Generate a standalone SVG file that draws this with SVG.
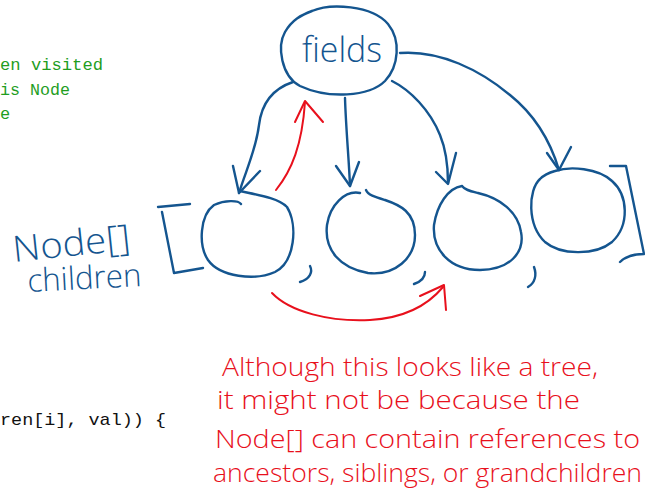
<svg xmlns="http://www.w3.org/2000/svg" width="645" height="499" viewBox="0 0 645 499">
<defs>
<style>
.bl{fill:none;stroke:#14558f;stroke-width:2.4;stroke-linecap:round;stroke-linejoin:round}
.rd{fill:none;stroke:#e8101c;stroke-width:2;stroke-linecap:round;stroke-linejoin:round}
.code{font-family:"Liberation Mono","DejaVu Sans Mono",monospace;font-size:17px}
.green{fill:#1f9e1f}
.black{fill:#111}
.hw-b{font-family:"Open Sans","DejaVu Sans",sans-serif;fill:#14558f;font-weight:300}
.hw-r{font-family:"Open Sans","DejaVu Sans",sans-serif;fill:#e8101c;font-weight:300;font-size:26px}
</style>
</defs>
<rect width="645" height="499" fill="#fff"/>

<g id="code">
<text class="code green" x="0" y="70" textLength="103" lengthAdjust="spacingAndGlyphs">en visited</text>
<text class="code green" x="0" y="95" textLength="70" lengthAdjust="spacingAndGlyphs">is Node</text>
<text class="code green" x="0" y="119">e</text>
<text class="code black" x="0" y="425" textLength="166" lengthAdjust="spacingAndGlyphs">ren[i], val)) {</text>
</g>

<g id="fields">
<path class="bl" d="M 312,11 C 330,3 372,5 388,24 C 401,40 399,66 385,81 C 369,97 328,99 300,86 C 281,76 277,46 285,32 C 292,20 301,15 312,11"/>
<text class="hw-b" x="302" y="62" font-size="34" textLength="80" lengthAdjust="spacingAndGlyphs">fields</text>
</g>

<g id="children-label">
<text class="hw-b" font-size="36" textLength="118" lengthAdjust="spacingAndGlyphs" transform="translate(14,262) rotate(-6)">Node[]</text>
<text class="hw-b" font-size="32" textLength="114" lengthAdjust="spacingAndGlyphs" transform="translate(28,292) rotate(-3)">children</text>
</g>

<g id="brackets">
<path class="bl" d="M 158,207 L 190,204 M 162,212 L 174,273 L 203,268"/>
<path class="bl" d="M 610,166 L 626,166 L 644,254 C 635,254 626,256 620,262"/>
<path class="bl" d="M 310,266 C 313,272 310,279 300,282"/>
<path class="bl" d="M 425,272 C 425,278 420,282 414,284"/>
<path class="bl" d="M 534,267 C 537,275 535,283 528,287"/>
</g>

<g id="node1">
<path class="bl" d="M 241,204 C 238,200 225,200 214,205 C 200,215 198,245 208,260 C 220,277 255,281 275,272 C 295,262 298,225 287,207 C 278,198 258,195 240,191"/>
</g>
<g id="node2">
<path class="bl" d="M 360,193 C 345,190 330,205 327,225 C 324,250 340,268 368,273 C 395,276 415,258 415,235 C 415,212 400,205 385,200 C 375,197 368,195 366,190"/>
</g>
<g id="node3">
<path class="bl" d="M 462,186 C 448,188 437,205 434,225 C 432,250 450,270 480,270 C 510,270 525,252 521,232 C 518,212 500,198 478,193 C 470,191 465,190 462,186"/>
</g>
<g id="node4">
<path class="bl" d="M 540,179 C 528,190 527,225 545,242 C 560,255 595,256 612,242 C 630,225 628,195 612,181 C 598,168 570,166 555,171 C 548,173 543,176 540,179"/>
</g>

<g id="connectors">
<path class="bl" d="M 293,82 C 275,88 262,100 259,125 C 256,150 246,170 239,193"/>
<path class="bl" d="M 233,166 L 239,193 L 260,171"/>
<path class="bl" d="M 345,98 C 346,130 349,160 350,186"/>
<path class="bl" d="M 336,166 L 350,186 L 359,162"/>
<path class="bl" d="M 392,81 C 410,90 430,110 440,135 C 447,152 448,170 448,183"/>
<path class="bl" d="M 436,172 L 448,184 L 456,153"/>
<path class="bl" d="M 400,53 C 440,50 480,70 510,95 C 535,115 550,140 559,170"/>
<path class="bl" d="M 547,153 L 559,170 L 571,147"/>
<path class="rd" d="M 276,190 C 292,170 302,145 305,102"/>
<path class="rd" d="M 295,122 L 305,101 L 323,122"/>
<path class="rd" d="M 272,293 C 290,312 330,322 370,320 C 405,318 428,305 443,287"/>
<path class="rd" d="M 420,296 L 444,285 L 446,310"/>
</g>

<g id="note">
<text class="hw-r" x="222" y="376" textLength="376" lengthAdjust="spacingAndGlyphs">Although this looks like a tree,</text>
<text class="hw-r" x="217" y="409" textLength="363" lengthAdjust="spacingAndGlyphs">it might not be because the</text>
<text class="hw-r" x="215" y="448" textLength="425" lengthAdjust="spacingAndGlyphs">Node[] can contain references to</text>
<text class="hw-r" x="213" y="482" textLength="429" lengthAdjust="spacingAndGlyphs">ancestors, siblings, or grandchildren</text>
</g>
</svg>
